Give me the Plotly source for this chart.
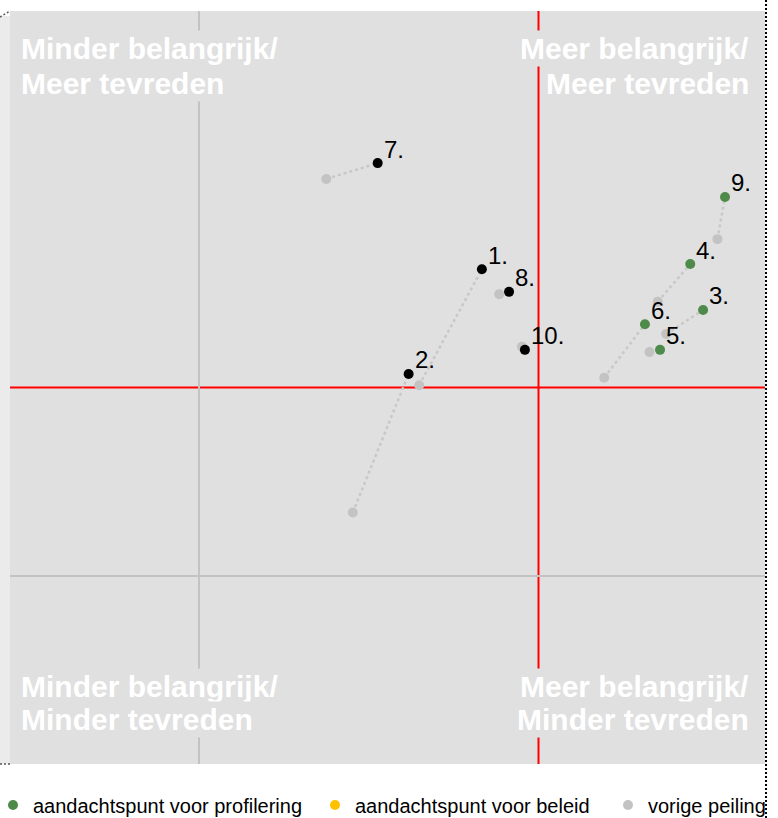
import plotly.graph_objects as go

# ---- data (0-100 scale: x = belang, y = tevredenheid) ----
labels = ["1.", "2.", "3.", "4.", "5.", "6.", "7.", "8.", "9.", "10."]
cur_x = [62.5, 52.8, 91.8, 90.1, 86.1, 84.1, 48.7, 66.1, 94.7, 68.2]
cur_y = [65.7, 51.8, 60.3, 66.4, 55.0, 58.4, 79.8, 62.7, 75.3, 55.0]
prev_x = [54.2, 45.4, 86.9, 85.8, 84.7, 78.7, 41.9, 64.8, 93.7, 67.8]
prev_y = [50.3, 33.4, 57.1, 61.4, 54.7, 51.3, 77.7, 62.4, 69.7, 55.4]
category = ["", "", "profilering", "profilering", "profilering", "profilering",
            "", "", "profilering", ""]

legend_names = ["aandachtspunt voor profilering", "aandachtspunt voor beleid", "vorige peiling"]
quadrant_lines = [["Minder belangrijk/", "Meer tevreden"],
                  ["Meer belangrijk/", "Meer tevreden"],
                  ["Minder belangrijk/", "Minder tevreden"],
                  ["Meer belangrijk/", "Minder tevreden"]]
ref_x = 70
ref_y = 50
grid_x = [25]
grid_y = [25]

# ---- styling ----
W, H = 778, 818
ML, MR, MT, MB = 10, 13, 11, 54
PW, PH = W - ML - MR, H - MT - MB
BG = "#e0e0e0"
GREEN = "#4e8a49"
GOLD = "#ffc000"
GREY = "#c3c3c3"
FONT = "Liberation Sans, Arial, sans-serif"


def px_x(p):
    return (p - ML) / PW


def px_y(p):
    return (H - MB - p) / PH


fig = go.Figure()

# connecting dotted lines
lx, ly = [], []
for a, b, c, d in zip(prev_x, prev_y, cur_x, cur_y):
    lx += [a, c, None]
    ly += [b, d, None]
fig.add_trace(go.Scatter(x=lx, y=ly, mode="lines", showlegend=False, hoverinfo="skip",
                         line=dict(color="#c8c8c8", width=2.5, dash="dot")))

# previous measurement
fig.add_trace(go.Scatter(x=prev_x, y=prev_y, mode="markers", name=legend_names[2],
                         legend="legend3",
                         marker=dict(color=GREY, size=10)))

# current (no category)
bx = [x for x, c in zip(cur_x, category) if c == ""]
by = [y for y, c in zip(cur_y, category) if c == ""]
fig.add_trace(go.Scatter(x=bx, y=by, mode="markers", showlegend=False,
                         marker=dict(color="black", size=10)))

# current (profilering)
gx = [x for x, c in zip(cur_x, category) if c == "profilering"]
gy = [y for y, c in zip(cur_y, category) if c == "profilering"]
fig.add_trace(go.Scatter(x=gx, y=gy, mode="markers", name=legend_names[0],
                         legend="legend",
                         marker=dict(color=GREEN, size=10)))

# beleid (no points)
fig.add_trace(go.Scatter(x=[None], y=[None], mode="markers", name=legend_names[1],
                         legend="legend2", marker=dict(color=GOLD, size=10)))

shapes = [
    dict(type="line", xref="x", yref="paper", x0=ref_x, x1=ref_x, y0=0, y1=1,
         line=dict(color="#ff0000", width=2), layer="below"),
    dict(type="line", xref="paper", yref="y", x0=0, x1=1, y0=ref_y, y1=ref_y,
         line=dict(color="#ff0000", width=2), layer="below"),
    # light strip on the left
    dict(type="rect", xref="paper", yref="paper", x0=px_x(0), x1=px_x(10),
         y0=px_y(764), y1=px_y(16), fillcolor="#ebebeb", line=dict(width=0), layer="below"),
    # dotted frame pieces
    dict(type="line", xref="paper", yref="paper", x0=px_x(766), x1=px_x(766),
         y0=px_y(0), y1=px_y(818), line=dict(color="black", width=2, dash="2px,2px")),
    dict(type="line", xref="paper", yref="paper", x0=px_x(0), x1=px_x(10),
         y0=px_y(17), y1=px_y(11), line=dict(color="#555555", width=1.5, dash="2px,2px")),
    dict(type="line", xref="paper", yref="paper", x0=px_x(0), x1=px_x(10),
         y0=px_y(764), y1=px_y(764), line=dict(color="#555555", width=1.5, dash="2px,2px")),
]

# point labels
annotations = []
for x, y, t in zip(cur_x, cur_y, labels):
    annotations.append(dict(text=t, x=x, y=y, xref="x", yref="y", showarrow=False,
                            xanchor="left", yanchor="middle", xshift=4, yshift=14,
                            font=dict(family=FONT, size=24, color="black")))

# quadrant labels, one annotation per line
qfont = dict(family=FONT, size=30, color="white", weight="bold")
line_centres_top = [49, 83]
line_centres_bot = [686, 719]
for qi, lines in enumerate(quadrant_lines):
    centres = line_centres_top if qi < 2 else line_centres_bot
    left = qi in (0, 2)
    for txt, cy in zip(lines, centres):
        annotations.append(dict(text=txt, xref="paper", yref="paper",
                                x=px_x(19) if left else px_x(751), y=px_y(cy),
                                xanchor="left" if left else "right", yanchor="middle",
                                showarrow=False, font=qfont, bgcolor=BG))

lfont = dict(family=FONT, size=20, color="black")
leg_common = dict(orientation="h", yanchor="middle", y=px_y(805), xanchor="left",
                  bgcolor="rgba(0,0,0,0)", font=lfont, borderwidth=0)

fig.update_layout(
    width=W, height=H,
    margin=dict(l=ML, r=MR, t=MT, b=MB, autoexpand=False),
    paper_bgcolor="white", plot_bgcolor=BG,
    xaxis=dict(range=[0, 100], tickvals=grid_x, showticklabels=False, ticks="",
               showgrid=True, gridcolor=GREY, gridwidth=2, zeroline=False, showline=False,
               fixedrange=True, automargin=False),
    yaxis=dict(range=[0, 100], tickvals=grid_y, showticklabels=False, ticks="",
               showgrid=True, gridcolor=GREY, gridwidth=2, zeroline=False, showline=False,
               fixedrange=True, automargin=False),
    shapes=shapes, annotations=annotations,
    legend=dict(x=px_x(-7), **leg_common),
    legend2=dict(x=px_x(315), **leg_common),
    legend3=dict(x=px_x(608), **leg_common),
    hovermode=False,
)

fig.write_html("out.html", config={"displayModeBar": False},
               post_script="document.body.style.margin='0';document.body.style.padding='0';"
                           "document.body.style.overflow='hidden';")
